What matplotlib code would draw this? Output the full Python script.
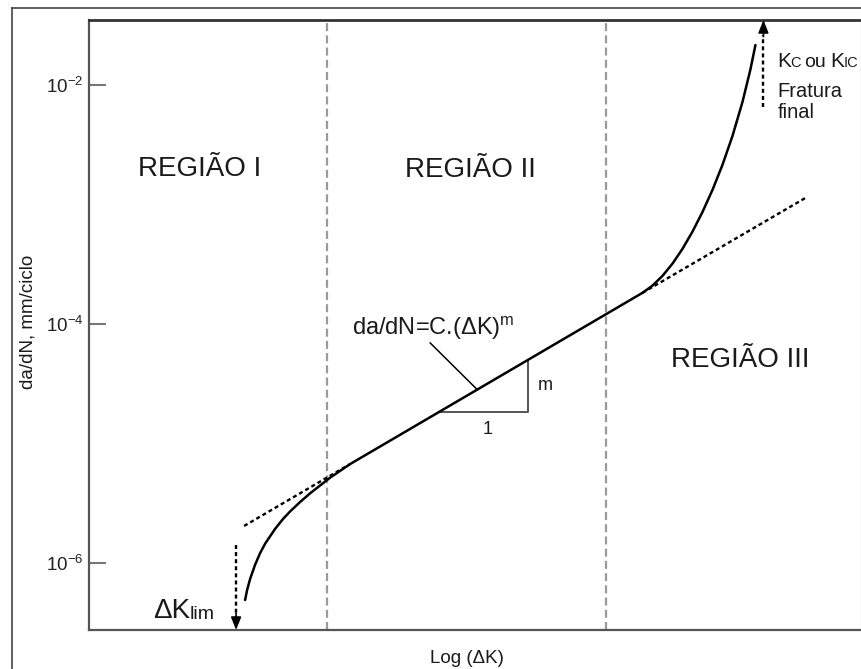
import numpy as np
import matplotlib
matplotlib.use("Agg")
import matplotlib.pyplot as plt
from matplotlib.lines import Line2D
from matplotlib.ticker import NullLocator

plt.rcParams['font.family'] = ['Liberation Sans', 'DejaVu Sans']
plt.rcParams['mathtext.fontset'] = 'custom'
plt.rcParams['mathtext.rm'] = 'Liberation Sans'
plt.rcParams['mathtext.it'] = 'Liberation Sans:italic'

# ---------------- data (x = log(ΔK), arbitrary units; y = da/dN, mm/ciclo) ----------------
region1_x = [1.56, 1.58, 1.61, 1.66, 1.71, 1.76, 1.86, 1.94, 2.01, 2.11, 2.21, 2.41, 2.61]
region1_y = [4.90e-7, 5.94e-7, 7.35e-7, 9.67e-7, 1.21e-6, 1.45e-6, 1.93e-6, 2.34e-6,
             2.70e-6, 3.24e-6, 3.83e-6, 5.18e-6, 6.73e-6]
region2_x = [2.61, 5.53]
region2_y = [6.73e-6, 1.82e-4]
region3_x = [5.53, 5.63, 5.73, 5.83, 5.93, 6.03, 6.13, 6.23, 6.33, 6.43, 6.53, 6.61, 6.66]
region3_y = [1.82e-4, 2.09e-4, 2.52e-4, 3.19e-4, 4.24e-4, 5.91e-4, 8.62e-4, 1.32e-3,
             2.14e-3, 3.73e-3, 7.18e-3, 1.35e-2, 2.16e-2]
paris_low_x = [1.55, 2.61]
paris_low_y = [2.04e-6, 6.73e-6]
paris_high_x = [5.53, 7.16]
paris_high_y = [1.82e-4, 1.135e-3]
region_bounds = [2.38, 5.17]
slope_tri_x = [3.50, 4.39]
dK_lim_x = 1.47
dK_lim_top = 1.42e-6
Kc_x = 6.74
Kc_bottom = 6.55e-3
region_labels = ['REGIÃO I', 'REGIÃO II', 'REGIÃO III']
y_ticks = [1e-2, 1e-4, 1e-6]
y_tick_labels = [r'$\mathregular{10^{-2}}$', r'$\mathregular{10^{-4}}$', r'$\mathregular{10^{-6}}$']

XLIM = (0.0, 7.715)
YLIM = (10 ** -6.561, 10 ** -1.456)


def P(xp, yp):
    """reference-pixel position -> data position (for annotation placement)"""
    return (xp - 89) / 100.0, 10 ** (-4 + (324 - yp) / 119.5)


W, H = 862, 669
fig = plt.figure(figsize=(W / 100, H / 100), dpi=100)
ax = fig.add_axes([89 / W, 1 - 630 / H, (861 - 89) / W, (630 - 20) / H])
ax.set_yscale('log')
ax.set_xlim(*XLIM)
ax.set_ylim(*YLIM)

# spines
for s in ['left', 'bottom']:
    ax.spines[s].set_color('#555555')
    ax.spines[s].set_linewidth(1.6)
ax.spines['top'].set_color('#333333')
ax.spines['top'].set_linewidth(2.0)
ax.spines['right'].set_color('#c8c8c8')
ax.spines['right'].set_linewidth(0.9)

ax.set_xticks([])
ax.set_yticks(y_ticks)
ax.set_yticklabels(y_tick_labels)
ax.yaxis.set_minor_locator(NullLocator())
ax.tick_params(axis='y', direction='in', length=12, width=1.5, color='#777777',
               labelsize=13.5, labelcolor='#222222', pad=4)

# region boundaries
for xb in region_bounds:
    ax.axvline(xb, color='#9a9a9a', lw=1.6, linestyle=(0, (3.6, 1.9)), zorder=1)

# main curve
curve_x = region1_x + region2_x[1:-1] + region3_x
curve_y = region1_y + region2_y[1:-1] + region3_y
ax.plot(curve_x, curve_y, color='black', lw=1.8, solid_capstyle='round',
        solid_joinstyle='round', zorder=3)

# Paris-law extensions (dotted)
dot = (0, (1.7, 1.3))
ax.plot(paris_low_x, paris_low_y, color='black', lw=1.7, linestyle=dot, zorder=2)
ax.plot(paris_high_x, paris_high_y, color='black', lw=1.7, linestyle=dot, zorder=2)

# slope triangle
lx = np.array(region2_x)
ly = np.log10(region2_y)
t0 = 10 ** np.interp(slope_tri_x[0], lx, ly)
t1 = 10 ** np.interp(slope_tri_x[1], lx, ly)
ax.plot([slope_tri_x[0], slope_tri_x[1], slope_tri_x[1]], [t0, t0, t1],
        color='#555555', lw=1.4, zorder=2)

# leader line from formula to curve
lead_end_x = 3.88
lead_end_y = 10 ** np.interp(lead_end_x, lx, ly)
ax.plot([P(430, 343)[0], lead_end_x], [P(430, 343)[1], lead_end_y], color='black', lw=1.1)

# threshold arrow (down)
ax.plot([dK_lim_x, dK_lim_x], [dK_lim_top, P(0, 618)[1]], color='black', lw=1.7, linestyle=dot)
ax.annotate('', xy=(dK_lim_x, YLIM[0]), xytext=(0, 12), textcoords='offset points',
            arrowprops=dict(arrowstyle='-|>,head_length=0.55,head_width=0.22', color='black',
                            lw=1.2, shrinkA=0, shrinkB=0, mutation_scale=14))
# fracture arrow (up)
ax.plot([Kc_x, Kc_x], [Kc_bottom, P(0, 35)[1]], color='black', lw=1.7, linestyle=dot)
ax.annotate('', xy=(Kc_x, YLIM[1]), xytext=(0, -12), textcoords='offset points',
            arrowprops=dict(arrowstyle='-|>,head_length=0.55,head_width=0.22', color='black',
                            lw=1.2, shrinkA=0, shrinkB=0, mutation_scale=14))

tc = '#1a1a1a'
# region labels
ax.text(*P(200, 176), region_labels[0], fontsize=20, ha='center', va='baseline', color=tc)
ax.text(*P(470, 177), region_labels[1], fontsize=20, ha='center', va='baseline', color=tc)
ax.text(*P(740, 367), region_labels[2], fontsize=20, ha='center', va='baseline', color=tc)

# formula and triangle labels
ax.text(*P(352, 335), r'da/dN=C.(ΔK)$^{\mathregular{m}}$', fontsize=17, ha='left',
        va='baseline', color=tc)
ax.text(*P(545, 386), 'm', fontsize=13, ha='center', va='center', color=tc)
ax.text(*P(487, 430), '1', fontsize=13, ha='center', va='center', color=tc)

# ΔK threshold label
ax.text(*P(190, 618), 'ΔK', fontsize=20, ha='right', va='baseline', color=tc)
ax.text(*P(190, 619), 'lim', fontsize=14, ha='left', va='baseline', color=tc)

# Kc / KIc labels
ax.text(*P(777, 67), 'K', fontsize=15, ha='left', va='baseline', color=tc)
ax.text(*P(789.5, 67), 'C', fontsize=10.5, ha='left', va='baseline', color=tc)
ax.text(*P(804, 67), 'ou', fontsize=14, ha='left', va='baseline', color=tc)
ax.text(*P(830, 67), 'K', fontsize=15, ha='left', va='baseline', color=tc)
ax.text(*P(843, 67), 'IC', fontsize=10.5, ha='left', va='baseline', color=tc)
ax.text(*P(777, 97), 'Fratura', fontsize=14.5, ha='left', va='baseline', color=tc)
ax.text(*P(777, 118), 'final', fontsize=14.5, ha='left', va='baseline', color=tc)

# axis titles
fig.text(467 / W, 1 - 663 / H, 'Log (ΔK)', fontsize=13.5, ha='center', va='baseline', color=tc)
fig.text(28 / W, 1 - 322 / H, 'da/dN, mm/ciclo', fontsize=13.5, rotation=90,
         ha='center', va='center', color=tc)

# outer frame
fig.add_artist(Line2D([12 / W, 12 / W], [0, 1 - 8 / H], transform=fig.transFigure,
                      color='#444444', lw=1.2))
fig.add_artist(Line2D([12 / W, 1], [1 - 8 / H, 1 - 8 / H], transform=fig.transFigure,
                      color='#444444', lw=1.2))

fig.savefig('out.png', dpi=100)
